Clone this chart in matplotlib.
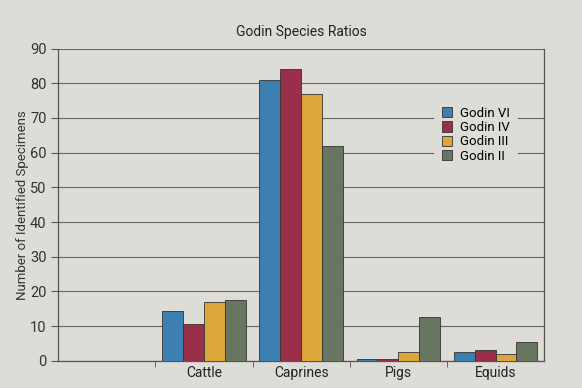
import matplotlib
matplotlib.use("Agg")
import matplotlib.pyplot as plt
import numpy as np

plt.rcParams['font.family'] = ['Roboto', 'DejaVu Sans']

categories = ["", "Cattle", "Caprines", "Pigs", "Equids"]
series = ["Godin VI", "Godin IV", "Godin III", "Godin II"]
godin_vi = [0, 14.5, 81, 0.5, 2.5]
godin_iv = [0, 10.5, 84, 0.5, 3]
godin_iii = [0, 17, 77, 2.5, 2]
godin_ii = [0, 17.5, 62, 12.5, 5.5]
colors = ["#3d7fb0", "#9a2f4a", "#dba73a", "#687560"]

bg = "#dddcd7"
fig = plt.figure(figsize=(5.82, 3.88), dpi=100, facecolor=bg)
ax = fig.add_axes([0.10, 0.07, 0.835, 0.805])
ax.set_facecolor(bg)

x = np.arange(len(categories))
w = 0.215
data = [godin_vi, godin_iv, godin_iii, godin_ii]
for i, (vals, c, name) in enumerate(zip(data, colors, series)):
    xs = x[1:] + (i - 1.5) * w
    ax.bar(xs, vals[1:], width=w, color=c, edgecolor="#333333", linewidth=0.6,
           label=name, zorder=3)

ax.set_ylim(0, 90)
ax.set_yticks(np.arange(0, 91, 10))
ax.set_xlim(-0.5, len(categories) - 0.5)
ax.set_xticks(x[1:])
ax.set_xticklabels(categories[1:], fontsize=10, color="#222222")
ax.set_xticks(np.arange(0.5, len(categories) - 0.5, 1), minor=True)
ax.tick_params(axis='x', which='major', length=0, pad=4)
ax.tick_params(axis='x', which='minor', length=4, color="#555555")
ax.tick_params(axis='y', length=5, color="#555555", labelsize=10.5, labelcolor="#333333")
ax.yaxis.grid(True, color="#666666", linewidth=0.8, zorder=0)
for s in ["left", "right", "bottom"]:
    ax.spines[s].set_color("#555555")
    ax.spines[s].set_linewidth(0.9)
ax.spines["top"].set_visible(False)

ax.set_ylabel("Number of Identified Specimens", fontsize=9.5, color="#333333", labelpad=1)
ax.set_title("Godin Species Ratios", fontsize=10, color="#222222", pad=9)

leg = ax.legend(loc="upper right", bbox_to_anchor=(0.96, 0.86), frameon=True,
                fontsize=9.5, handlelength=0.8, handleheight=0.8, handletextpad=0.6,
                labelspacing=0.1, borderpad=0.6, edgecolor=bg, facecolor=bg, framealpha=1)
leg.get_frame().set_linewidth(0)

fig.savefig("out.png", dpi=100, facecolor=bg)
